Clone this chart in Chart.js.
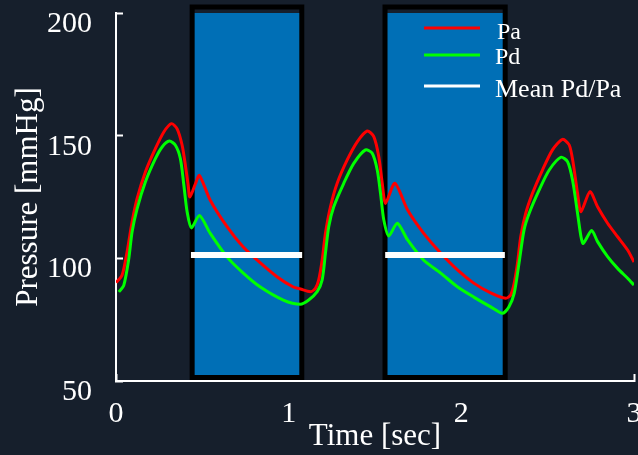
<!DOCTYPE html>
<html>
<head>
<meta charset="utf-8">
<script src="https://cdn.jsdelivr.net/npm/chart.js@4/dist/chart.umd.min.js"></script>
<style>
  html, body { margin: 0; padding: 0; background: #161f2c; overflow: hidden; }
  #wrap { position: relative; width: 638px; height: 455px; }
</style>
</head>
<body>
<div id="wrap"><canvas id="pressure-chart"></canvas></div>
<script>
// values
const paTime = [0, 0.035, 0.064, 0.093, 0.122, 0.17, 0.228, 0.277, 0.321, 0.354, 0.383, 0.402, 0.418, 0.428, 0.46, 0.483, 0.545, 0.644, 0.737, 0.836, 0.934, 1.027, 1.068, 1.126, 1.155, 1.174, 1.194, 1.213, 1.242, 1.281, 1.339, 1.397, 1.455, 1.493, 1.522, 1.542, 1.561, 1.615, 1.689, 1.781, 1.88, 1.979, 2.072, 2.17, 2.257, 2.286, 2.306, 2.325, 2.344, 2.373, 2.412, 2.47, 2.528, 2.586, 2.625, 2.648, 2.673, 2.693, 2.745, 2.789, 2.847, 2.905, 2.963, 3.0];
const paValues = [90.1, 93.1, 102.6, 114.8, 124.3, 135.2, 144.7, 151.5, 154.9, 152.8, 146.1, 137.9, 129.8, 125.0, 130.4, 133.8, 123.8, 112.8, 104.6, 98.1, 92.4, 88.3, 87.5, 86.4, 87.8, 91.2, 99.3, 110.2, 121.0, 130.6, 140.1, 147.5, 151.9, 149.6, 141.4, 130.6, 122.4, 130.6, 119.7, 110.3, 102.2, 95.2, 89.9, 85.9, 83.7, 85.1, 89.8, 98.0, 108.8, 118.4, 126.5, 136.0, 144.2, 148.5, 146.2, 138.7, 126.5, 119.0, 127.2, 121.0, 114.3, 108.8, 103.4, 98.5];

const pdTime = [0.016, 0.045, 0.074, 0.093, 0.122, 0.17, 0.228, 0.267, 0.309, 0.344, 0.373, 0.393, 0.412, 0.437, 0.483, 0.545, 0.644, 0.737, 0.836, 0.969, 1.068, 1.116, 1.165, 1.194, 1.213, 1.232, 1.261, 1.319, 1.377, 1.445, 1.484, 1.513, 1.532, 1.551, 1.58, 1.629, 1.689, 1.781, 1.88, 1.979, 2.072, 2.17, 2.238, 2.276, 2.306, 2.334, 2.363, 2.393, 2.451, 2.509, 2.576, 2.615, 2.644, 2.673, 2.693, 2.706, 2.755, 2.789, 2.847, 2.905, 2.963, 3.0];
const pdValues = [86.3, 89.0, 99.8, 110.7, 120.2, 131.1, 140.6, 145.4, 147.8, 146.1, 140.6, 129.8, 118.9, 112.4, 117.5, 110.3, 100.5, 94.0, 88.3, 83.0, 81.3, 83.0, 86.4, 91.2, 102.1, 112.9, 121.0, 130.6, 138.7, 144.2, 142.8, 136.0, 126.5, 115.6, 109.1, 114.3, 107.5, 99.3, 94.0, 88.3, 84.2, 80.2, 77.6, 80.3, 85.7, 98.0, 111.5, 118.4, 127.9, 136.0, 141.2, 139.4, 131.9, 118.4, 108.8, 106.1, 111.3, 106.8, 100.7, 95.9, 91.9, 89.1];

// mean Pd/Pa windows
const meanStart = [0.434, 1.559];
const meanEnd = [1.078, 2.252];
const meanValue = [101.4, 101.4];

// shaded windows
const boxStart = [0.441, 1.558];
const boxEnd = [1.076, 2.254];
const boxTop = 202.4;
const boxBottom = 51.4;

const xTicks = [0, 1, 2, 3];
const yTicks = [50, 100, 150, 200];

const serif = "'Liberation Serif', 'Times New Roman', serif";

function toPoints(xs, ys) {
    return xs.map((x, i) => ({ x: x, y: ys[i] }));
}

let meanPoints = [];
let fillPoints = [];
let edgePoints = [];
for (let i = 0; i < meanStart.length; i++) {
    if (i > 0) {
        const gapX = (meanEnd[i - 1] + meanStart[i]) / 2;
        meanPoints.push({ x: gapX, y: null });
        fillPoints.push({ x: gapX, y: null });
        edgePoints.push({ x: gapX, y: null });
    }
    meanPoints.push({ x: meanStart[i], y: meanValue[i] }, { x: meanEnd[i], y: meanValue[i] });
    fillPoints.push({ x: boxStart[i], y: boxTop }, { x: boxEnd[i], y: boxTop });
    edgePoints.push(
        { x: boxStart[i], y: boxBottom },
        { x: boxStart[i], y: boxTop },
        { x: boxEnd[i], y: boxTop },
        { x: boxEnd[i], y: boxBottom },
        { x: boxStart[i], y: boxBottom }
    );
}

// legend drawn inside the plot, top right
const insideLegend = {
    id: 'insideLegend',
    afterDatasetsDraw(chart) {
        const ctx = chart.ctx;
        const rows = [
            { lineY: 28, textX: 497, textY: 39, size: 24 },
            { lineY: 55, textX: 495, textY: 64, size: 24 },
            { lineY: 86, textX: 495, textY: 97, size: 26 }
        ];
        const items = chart.data.datasets.filter(d => d.inLegend);
        ctx.save();
        items.forEach((d, i) => {
            const r = rows[i];
            ctx.strokeStyle = d.borderColor;
            ctx.lineWidth = d.legendWidth;
            ctx.lineCap = 'butt';
            ctx.beginPath();
            ctx.moveTo(424, r.lineY);
            ctx.lineTo(480, r.lineY);
            ctx.stroke();
            ctx.fillStyle = '#ffffff';
            ctx.font = r.size + 'px ' + serif;
            ctx.textBaseline = 'alphabetic';
            ctx.textAlign = 'left';
            ctx.fillText(d.label, r.textX, r.textY);
        });
        ctx.restore();
    }
};

new Chart('pressure-chart', {
    type: 'line',
    data: {
        datasets: [
            {
                label: 'Pa',
                data: toPoints(paTime, paValues),
                borderColor: '#ff0000',
                borderWidth: 3,
                pointRadius: 0,
                tension: 0.25,
                inLegend: true,
                legendWidth: 3,
                order: 2
            },
            {
                label: 'Pd',
                data: toPoints(pdTime, pdValues),
                borderColor: '#00ff00',
                borderWidth: 3,
                pointRadius: 0,
                tension: 0.25,
                inLegend: true,
                legendWidth: 3,
                order: 1
            },
            {
                label: 'Mean Pd/Pa',
                data: meanPoints,
                borderColor: '#ffffff',
                borderWidth: 6,
                borderCapStyle: 'butt',
                pointRadius: 0,
                spanGaps: false,
                inLegend: true,
                legendWidth: 3,
                order: 0
            },
            {
                label: 'window edge',
                data: edgePoints,
                borderColor: '#000000',
                borderWidth: 5,
                borderJoinStyle: 'miter',
                borderCapStyle: 'square',
                pointRadius: 0,
                spanGaps: false,
                clip: false,
                order: 3
            },
            {
                label: 'window',
                data: fillPoints,
                borderWidth: 0,
                borderColor: 'rgba(0,0,0,0)',
                backgroundColor: '#006fb6',
                fill: { value: boxBottom },
                pointRadius: 0,
                spanGaps: false,
                clip: false,
                order: 4
            }
        ]
    },
    options: {
        responsive: true,
        maintainAspectRatio: false,
        animation: false,
        layout: { padding: { top: 13, right: 4, bottom: 0, left: 0 } },
        plugins: {
            legend: { display: false },
            tooltip: { enabled: false }
        },
        scales: {
            x: {
                type: 'linear',
                min: 0,
                max: 3,
                afterBuildTicks: (scale) => { scale.ticks = xTicks.map(v => ({ value: v })); },
                afterFit: (scale) => {
                    scale.height = 74;
                    scale.paddingLeft = 0;
                    scale.paddingRight = 0;
                },
                border: { color: '#ffffff', width: 2 },
                grid: { drawOnChartArea: false, tickLength: -7, tickColor: '#ffffff', tickWidth: 2 },
                ticks: {
                    color: '#ffffff',
                    font: { family: serif, size: 30 },
                    padding: 22,
                    maxRotation: 0
                },
                title: {
                    display: true,
                    text: 'Time [sec]',
                    color: '#ffffff',
                    font: { family: serif, size: 31 },
                    padding: { top: 0, bottom: 0 }
                }
            },
            y: {
                min: 50,
                max: 200,
                afterBuildTicks: (scale) => { scale.ticks = yTicks.map(v => ({ value: v })); },
                afterFit: (scale) => {
                    scale.width = 116;
                    scale.paddingTop = 0;
                    scale.paddingBottom = 0;
                },
                border: { color: '#ffffff', width: 2 },
                grid: { drawOnChartArea: false, tickLength: -7, tickColor: '#ffffff', tickWidth: 2 },
                ticks: {
                    color: '#ffffff',
                    font: { family: serif, size: 30 },
                    padding: 31,
                    labelOffset: 11
                },
                title: {
                    display: true,
                    text: 'Pressure [mmHg]',
                    color: '#ffffff',
                    font: { family: serif, size: 31 },
                    padding: { top: 10, bottom: 0 }
                }
            }
        }
    },
    plugins: [insideLegend]
});
</script>
</body>
</html>
